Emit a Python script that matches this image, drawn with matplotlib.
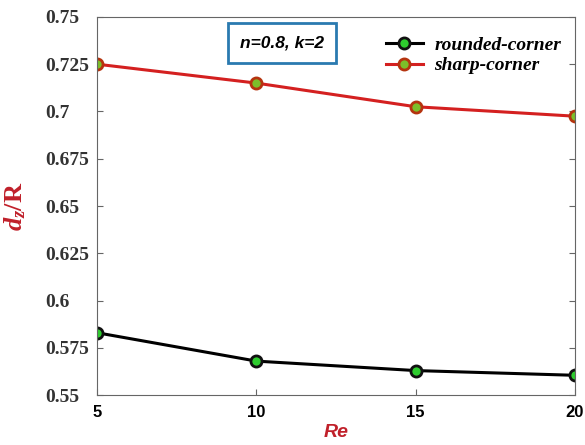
import matplotlib
matplotlib.use("Agg")
import matplotlib.pyplot as plt

re_values = [5, 10, 15, 20]
rounded_corner = [0.583, 0.568, 0.563, 0.5605]
sharp_corner = [0.725, 0.715, 0.7025, 0.6975]
y_ticks = [0.55, 0.575, 0.6, 0.625, 0.65, 0.675, 0.7, 0.725, 0.75]
y_tick_labels = ['0.55', '0.575', '0.6', '0.625', '0.65', '0.675', '0.7', '0.725', '0.75']

plt.rcParams['mathtext.fontset'] = 'custom'
plt.rcParams['mathtext.it'] = 'Liberation Serif:bold:italic'
plt.rcParams['mathtext.rm'] = 'Liberation Serif:bold'

fig = plt.figure(figsize=(5.85, 4.45), dpi=100)
ax = fig.add_axes([0.166, 0.112, 0.817, 0.85])

ax.plot(re_values, rounded_corner, color='black', lw=2.2, marker='o', ms=8,
        mfc='#2ecc2e', mec='#111111', mew=2, label='rounded-corner')
ax.plot(re_values, sharp_corner, color='#d42020', lw=2.2, marker='o', ms=8,
        mfc='#7cbf2a', mec='#b5340f', mew=2, label='sharp-corner')

ax.set_xlim(5, 20)
ax.set_ylim(0.55, 0.75)
ax.set_xticks(re_values)
ax.set_xticklabels([str(v) for v in re_values], fontfamily='Liberation Sans',
                   fontweight='bold', fontsize=12)
ax.set_yticks(y_ticks)
ax.set_yticklabels(y_tick_labels, fontfamily='Liberation Serif',
                   fontweight='bold', fontsize=14, color='#333333', ha='left')
ax.tick_params(direction='in', length=4, right=True, top=False, color='#666666')
ax.tick_params(axis='x', pad=7)
ax.tick_params(axis='y', pad=37)
for s in ax.spines.values():
    s.set_color('#666666')

ax.set_xlabel('Re', fontfamily='Liberation Sans', fontstyle='italic',
              fontweight='bold', fontsize=14, color='#c0202a', labelpad=3)
ax.set_ylabel(r'$d_z$/R', fontfamily='Liberation Serif',
              fontweight='bold', fontsize=19, color='#c0202a')
ax.yaxis.set_label_coords(-0.144, 0.5)

ax.text(0.387, 0.931, 'n=0.8, k=2', transform=ax.transAxes,
        fontfamily='Liberation Sans', fontstyle='italic', fontweight='bold',
        fontsize=12.5, va='center', ha='center',
        bbox=dict(boxstyle='square,pad=0.7', fc='white', ec='#2a7ab0', lw=2))

leg = ax.legend(loc='upper right', bbox_to_anchor=(1.0, 0.985), frameon=False,
                prop={'family': 'Liberation Serif', 'style': 'italic',
                      'weight': 'bold', 'size': 14},
                handlelength=1.9, handletextpad=0.6, labelspacing=0.15,
                borderaxespad=0.3)

fig.savefig('out.png', dpi=100)
